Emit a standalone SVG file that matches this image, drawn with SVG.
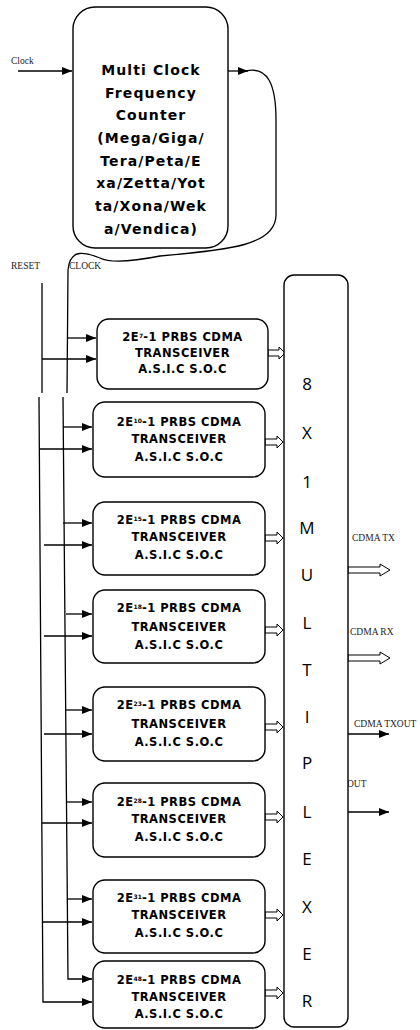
<svg xmlns="http://www.w3.org/2000/svg" width="420" height="1030" viewBox="0 0 420 1030">
<style>
.ln{fill:none;stroke:#000;stroke-width:1.3}
.bx{fill:#fff;stroke:#000;stroke-width:1.4}
.bt{font-family:"DejaVu Sans",sans-serif;font-weight:bold;font-size:11.5px;letter-spacing:0.5px;text-anchor:middle;fill:#000}
.tt{font-family:"DejaVu Sans",sans-serif;font-weight:bold;font-size:14px;letter-spacing:1.1px;text-anchor:middle;fill:#000}
.sp{font-size:6px;letter-spacing:0}
.lb{font-family:"Liberation Serif",serif;font-size:9.5px;fill:#222}
.mx{font-family:"Open Sans","Liberation Sans",sans-serif;font-size:17px;text-anchor:middle;fill:#000}
.ba{fill:#fff;stroke:#000;stroke-width:1}
</style>
<defs>
<marker id="ah" viewBox="0 0 10 8" refX="10" refY="4" markerWidth="10" markerHeight="8" markerUnits="userSpaceOnUse" orient="auto">
<path d="M0,0 L10,4 L0,8 Z" fill="#000"/>
</marker>
</defs>
<g id="connectors">
<path class="ln" d="M18,71 L72,71" marker-end="url(#ah)"/>
<path class="ln" d="M228,71 L248,71" marker-end="url(#ah)"/>
<path class="ln" d="M246,71 C268,66 276,85 276,120 L276,215 C276,245 230,250 160,256 C130,262 110,263 100,258 C85,252 70,248 68,270 L67,393"/>
<path class="ln" d="M42,283 L42,393"/>
<path class="ln" d="M39,397 L43,1002 L92,1002" marker-end="url(#ah)"/>
<path class="ln" d="M63,397 L68,979 L92,979" marker-end="url(#ah)"/>
<path class="ln" d="M67,338 L96,338" marker-end="url(#ah)"/>
<path class="ln" d="M42,359 L96,359" marker-end="url(#ah)"/>
<path class="ln" d="M63,427 L92,427" marker-end="url(#ah)"/>
<path class="ln" d="M39,449 L92,449" marker-end="url(#ah)"/>
<path class="ln" d="M63,523 L92,523" marker-end="url(#ah)"/>
<path class="ln" d="M44,545 L92,545" marker-end="url(#ah)"/>
<path class="ln" d="M66,614 L92,614" marker-end="url(#ah)"/>
<path class="ln" d="M44,636 L92,636" marker-end="url(#ah)"/>
<path class="ln" d="M66,710 L92,710" marker-end="url(#ah)"/>
<path class="ln" d="M44,734 L92,734" marker-end="url(#ah)"/>
<path class="ln" d="M67,802 L92,802" marker-end="url(#ah)"/>
<path class="ln" d="M42,823 L92,823" marker-end="url(#ah)"/>
<path class="ln" d="M67,899 L92,899" marker-end="url(#ah)"/>
<path class="ln" d="M43,922 L92,922" marker-end="url(#ah)"/>
<polygon class="ba" points="268,350 279,350 279,347 285,353 279,359 279,356 268,356"/>
<polygon class="ba" points="265,439 277,439 277,436 283,442 277,448 277,445 265,445"/>
<polygon class="ba" points="265,535 277,535 277,532 283,538 277,544 277,541 265,541"/>
<polygon class="ba" points="265,627 277,627 277,624 283,630 277,636 277,633 265,633"/>
<polygon class="ba" points="265,724 277,724 277,721 283,727 277,733 277,730 265,730"/>
<polygon class="ba" points="265,814 277,814 277,811 283,817 277,823 277,820 265,820"/>
<polygon class="ba" points="265,912 277,912 277,909 283,915 277,921 277,918 265,918"/>
<polygon class="ba" points="265,990 277,990 277,987 283,993 277,999 277,996 265,996"/>
<polygon class="ba" points="348,567 380,567 380,564 390,570 380,576 380,573 348,573"/>
<polygon class="ba" points="348,655 380,655 380,652 390,658 380,664 380,661 348,661"/>
<path class="ln" d="M348,734 L389,734" marker-end="url(#ah)"/>
<path class="ln" d="M348,812 L389,812" marker-end="url(#ah)"/>
</g>
<g id="labels">
<text class="lb" x="11" y="64">Clock</text>
<text class="lb" x="11" y="269">RESET</text>
<text class="lb" x="69" y="269">CLOCK</text>
<text class="lb" x="352" y="541">CDMA TX</text>
<text class="lb" x="350" y="635">CDMA RX</text>
<text class="lb" x="354" y="727">CDMA TXOUT</text>
<text class="lb" x="347" y="787">OUT</text>
</g>
<g id="counter">
<rect class="bx" x="73" y="7" width="155" height="241" rx="22"/>
<text class="tt" x="151" y="75">Multi Clock</text>
<text class="tt" x="151" y="98">Frequency</text>
<text class="tt" x="151" y="120">Counter</text>
<text class="tt" x="151" y="143">(Mega/Giga/</text>
<text class="tt" x="151" y="166">Tera/Peta/E</text>
<text class="tt" x="151" y="188">xa/Zetta/Yot</text>
<text class="tt" x="151" y="211">ta/Xona/Wek</text>
<text class="tt" x="151" y="234">a/Vendica)</text>
</g>
<g id="mux">
<rect class="bx" x="284" y="275" width="64" height="752" rx="10"/>
<text class="mx" x="307" y="390">8</text>
<text class="mx" x="307" y="439">X</text>
<text class="mx" x="307" y="488">1</text>
<text class="mx" x="307" y="534">M</text>
<text class="mx" x="307" y="581">U</text>
<text class="mx" x="307" y="629">L</text>
<text class="mx" x="307" y="676">T</text>
<text class="mx" x="307" y="723">I</text>
<text class="mx" x="307" y="769">P</text>
<text class="mx" x="307" y="818">L</text>
<text class="mx" x="307" y="865">E</text>
<text class="mx" x="307" y="913">X</text>
<text class="mx" x="307" y="960">E</text>
<text class="mx" x="307" y="1007">R</text>
</g>
<g id="prbs7">
<rect class="bx" x="97" y="319" width="171" height="70" rx="12"/>
<text class="bt" x="182.5" y="341">2E<tspan class="sp" dy="-3">7</tspan><tspan dy="3">-1 PRBS CDMA</tspan></text>
<text class="bt" x="182.5" y="357">TRANSCEIVER</text>
<text class="bt" x="182.5" y="373">A.S.I.C S.O.C</text>
</g>
<g id="prbs10">
<rect class="bx" x="93" y="402" width="172" height="75" rx="12"/>
<text class="bt" x="179" y="426">2E<tspan class="sp" dy="-3">10</tspan><tspan dy="3">-1 PRBS CDMA</tspan></text>
<text class="bt" x="179" y="443">TRANSCEIVER</text>
<text class="bt" x="179" y="461">A.S.I.C S.O.C</text>
</g>
<g id="prbs15">
<rect class="bx" x="93" y="502" width="172" height="73" rx="12"/>
<text class="bt" x="179" y="524">2E<tspan class="sp" dy="-3">15</tspan><tspan dy="3">-1 PRBS CDMA</tspan></text>
<text class="bt" x="179" y="541">TRANSCEIVER</text>
<text class="bt" x="179" y="559">A.S.I.C S.O.C</text>
</g>
<g id="prbs18">
<rect class="bx" x="93" y="590" width="172" height="73" rx="12"/>
<text class="bt" x="179" y="612">2E<tspan class="sp" dy="-3">18</tspan><tspan dy="3">-1 PRBS CDMA</tspan></text>
<text class="bt" x="179" y="631">TRANSCEIVER</text>
<text class="bt" x="179" y="649">A.S.I.C S.O.C</text>
</g>
<g id="prbs23">
<rect class="bx" x="93" y="687" width="172" height="74" rx="12"/>
<text class="bt" x="179" y="709">2E<tspan class="sp" dy="-3">23</tspan><tspan dy="3">-1 PRBS CDMA</tspan></text>
<text class="bt" x="179" y="728">TRANSCEIVER</text>
<text class="bt" x="179" y="746">A.S.I.C S.O.C</text>
</g>
<g id="prbs28">
<rect class="bx" x="93" y="783" width="172" height="74" rx="12"/>
<text class="bt" x="179" y="806">2E<tspan class="sp" dy="-3">28</tspan><tspan dy="3">-1 PRBS CDMA</tspan></text>
<text class="bt" x="179" y="823">TRANSCEIVER</text>
<text class="bt" x="179" y="841">A.S.I.C S.O.C</text>
</g>
<g id="prbs31">
<rect class="bx" x="93" y="880" width="172" height="73" rx="12"/>
<text class="bt" x="179" y="902">2E<tspan class="sp" dy="-3">31</tspan><tspan dy="3">-1 PRBS CDMA</tspan></text>
<text class="bt" x="179" y="919">TRANSCEIVER</text>
<text class="bt" x="179" y="937">A.S.I.C S.O.C</text>
</g>
<g id="prbs48">
<rect class="bx" x="93" y="961" width="172" height="67" rx="12"/>
<text class="bt" x="179" y="984">2E<tspan class="sp" dy="-3">48</tspan><tspan dy="3">-1 PRBS CDMA</tspan></text>
<text class="bt" x="179" y="1001">TRANSCEIVER</text>
<text class="bt" x="179" y="1018">A.S.I.C S.O.C</text>
</g>
</svg>
